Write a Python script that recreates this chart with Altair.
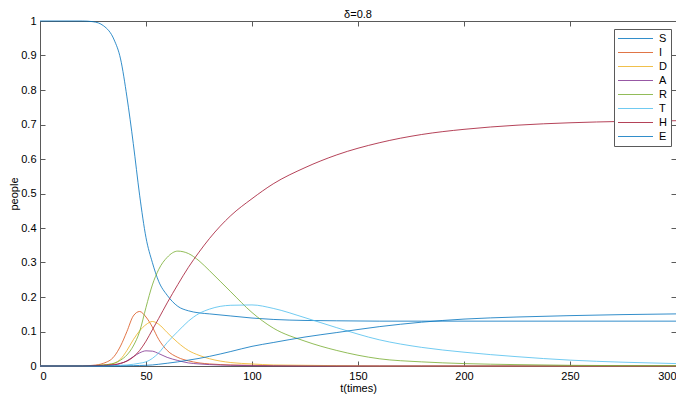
import altair as alt
import pandas as pd

# time grid (t, "times")
t = [0, 20, 25, 30, 35, 38, 41, 44, 47, 50, 53, 56, 60, 65, 70, 75, 80, 90, 100,
     110, 125, 140, 160, 180, 200, 225, 250, 275, 300]

S = [1, 1, 0.998, 0.986, 0.945, 0.89, 0.78, 0.645, 0.495, 0.372, 0.30, 0.245, 0.205,
     0.173, 0.16, 0.154, 0.151, 0.145, 0.139, 0.135, 0.132, 0.131, 0.13, 0.13, 0.13,
     0.13, 0.13, 0.13, 0.13]
I = [0, 0.0005, 0.002, 0.008, 0.028, 0.058, 0.1, 0.145, 0.158, 0.142, 0.113, 0.077,
     0.045, 0.025, 0.015, 0.009, 0.006, 0.003, 0.002, 0.001, 0.0005, 0, 0, 0, 0, 0,
     0, 0, 0]
D = [0, 0, 0.001, 0.003, 0.008, 0.02, 0.045, 0.076, 0.102, 0.12, 0.129, 0.121, 0.097,
     0.068, 0.045, 0.031, 0.021, 0.01, 0.006, 0.003, 0.002, 0.001, 0, 0, 0, 0, 0, 0, 0]
A = [0, 0, 0, 0.001, 0.003, 0.007, 0.015, 0.027, 0.038, 0.044, 0.043, 0.036, 0.025,
     0.016, 0.009, 0.006, 0.004, 0.002, 0.001, 0.0005, 0, 0, 0, 0, 0, 0, 0, 0, 0]
R = [0, 0, 0.001, 0.003, 0.008, 0.017, 0.032, 0.058, 0.1, 0.17, 0.235, 0.28, 0.315,
     0.333, 0.326, 0.305, 0.276, 0.215, 0.155, 0.11, 0.072, 0.045, 0.021, 0.012, 0.007,
     0.004, 0.002, 0.001, 0.001]
T = [0, 0, 0, 0, 0.001, 0.002, 0.003, 0.005, 0.008, 0.012, 0.022, 0.038, 0.068, 0.1,
     0.13, 0.152, 0.165, 0.176, 0.177, 0.167, 0.14, 0.111, 0.076, 0.054, 0.04, 0.027,
     0.017, 0.011, 0.007]
H = [0, 0, 0.001, 0.002, 0.004, 0.008, 0.014, 0.026, 0.045, 0.072, 0.105, 0.138,
     0.183, 0.236, 0.286, 0.33, 0.37, 0.436, 0.485, 0.528, 0.575, 0.612, 0.647, 0.671,
     0.686, 0.698, 0.705, 0.709, 0.711]
E = [0, 0, 0, 0, 0, 0, 0.0005, 0.001, 0.0015, 0.002, 0.003, 0.005, 0.008, 0.012,
     0.017, 0.022, 0.028, 0.042, 0.057, 0.068, 0.084, 0.097, 0.114, 0.127, 0.136,
     0.142, 0.146, 0.149, 0.151]

names = ["S", "I", "D", "A", "R", "T", "H", "E"]
colors = ["#0072BD", "#D95319", "#EDB120", "#7E2F8E", "#77AC30", "#4DBEEE",
          "#A2142F", "#0072BD"]
x_ticks = [0, 50, 100, 150, 200, 250, 300]
y_ticks = [0, 0.1, 0.2, 0.3, 0.4, 0.5, 0.6, 0.7, 0.8, 0.9, 1]

rows = []
for name, vals in zip(names, [S, I, D, A, R, T, H, E]):
    for tt, v in zip(t, vals):
        rows.append({"t": tt, "v": v, "series": name})
df = pd.DataFrame(rows)

frame = "#5a5a5a"
font = "Liberation Sans"
xs = alt.Scale(domain=[0, 300], nice=False, zero=False)
ys = alt.Scale(domain=[0, 1], nice=False)

lines = alt.Chart(df).mark_line(strokeWidth=1, strokeOpacity=0.8,
                                interpolate="monotone").encode(
    x=alt.X("t:Q", scale=xs, axis=alt.Axis(
        orient="bottom", values=x_ticks, offset=-5, tickSize=5, domain=False,
        grid=False, labelPadding=4, title="t(times)", titleY=21, format="d",
        minExtent=0)),
    y=alt.Y("v:Q", scale=ys, axis=alt.Axis(
        orient="left", values=y_ticks, offset=-5, tickSize=5, domain=False,
        grid=False, labelPadding=4, title="people", titleX=-26, format="~g",
        minExtent=0)),
    color=alt.Color("series:N", sort=names,
                    scale=alt.Scale(domain=names, range=colors),
                    legend=alt.Legend(
                        title=None, orient="none", legendX=574, legendY=8,
                        symbolType="M-3.5,0L3.5,0", symbolSize=100,
                        symbolStrokeWidth=1, symbolOpacity=0.8,
                        fillColor="white", strokeColor=frame, padding=4,
                        rowPadding=2, labelFontSize=11, labelFont=font,
                        labelColor="#000000", symbolOffset=12, labelOffset=18)),
)

ticks = alt.Chart(df).mark_point(opacity=0).encode(
    x=alt.X("t:Q", scale=xs, axis=alt.Axis(
        orient="top", values=x_ticks, offset=-5, tickSize=5, labels=False,
        domain=False, grid=False, title=None, minExtent=0, maxExtent=0)),
    y=alt.Y("v:Q", scale=ys, axis=alt.Axis(
        orient="right", values=y_ticks, offset=-5, tickSize=5, labels=False,
        domain=False, grid=False, title=None, minExtent=0, maxExtent=0)),
)

chart = alt.layer(lines, ticks).resolve_axis(
    x="independent", y="independent"
).properties(
    width=636, height=345,
    title=alt.Title("δ=0.8", fontSize=11, fontWeight="normal", offset=-5,
                    font=font, color="#000000"),
    padding={"left": 32, "top": 13, "right": 0, "bottom": 28},
    autosize=alt.AutoSizeParams(type="none"),
    background="white",
).configure_view(
    stroke=frame, strokeWidth=1
).configure_axis(
    tickColor=frame, labelFont=font, titleFont=font, labelFontSize=11,
    titleFontSize=11, labelColor="#000000", titleColor="#000000",
    titleFontWeight="normal"
)

chart.save("out.html", embed_options={"renderer": "svg", "actions": False})
